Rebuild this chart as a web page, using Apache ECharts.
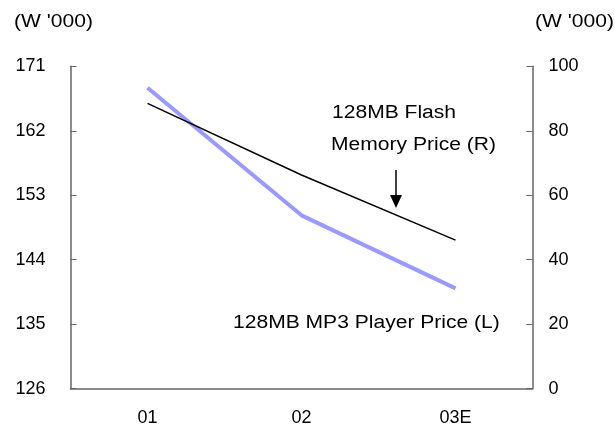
<!DOCTYPE html>
<html>
<head>
<meta charset="utf-8">
<script src="https://cdn.jsdelivr.net/npm/echarts@6/dist/echarts.min.js"></script>
<style>
  html, body { margin: 0; padding: 0; background: #fff; }
  #chart { width: 615px; height: 429px; }
</style>
</head>
<body>
<div id="chart"></div>
<script>
// Years on the category axis
var years = ['01', '02', '03E'];
// 128MB MP3 player price, left axis (W '000)
var mp3Price = [168.0, 150.2, 140.0];
// 128MB flash memory price, right axis (W '000)
var flashPrice = [88.5, 66.3, 46.1];
// Axis ranges
var leftMin = 126, leftMax = 171, leftStep = 9;
var rightMin = 0, rightMax = 100, rightStep = 20;

var FONT = 'Liberation Sans, Arial, sans-serif';
var AXIS_COLOR = '#666666';
var WIDE = 1.17; // horizontal stretch for the wide annotation lettering

function label(text, x, y) {
  return {
    type: 'text', x: x, y: y, scaleX: WIDE,
    style: { text: text, fill: '#000', font: '18px ' + FONT, textVerticalAlign: 'middle' }
  };
}

var chart = echarts.init(document.getElementById('chart'), null, { renderer: 'canvas' });

chart.setOption({
  animation: false,
  backgroundColor: '#ffffff',
  textStyle: { fontFamily: FONT },
  grid: { left: 70.5, right: 82.5, top: 66.3, bottom: 40.3, containLabel: false },
  xAxis: {
    type: 'category',
    data: years,
    boundaryGap: true,
    axisLine: { lineStyle: { color: AXIS_COLOR, width: 1.5 } },
    axisTick: { inside: true, length: 5, lineStyle: { color: AXIS_COLOR } },
    axisLabel: { color: '#000', fontSize: 18, fontFamily: FONT, margin: 20 },
    splitLine: { show: false }
  },
  yAxis: [
    {
      type: 'value',
      position: 'left',
      min: leftMin, max: leftMax, interval: leftStep,
      axisLine: { show: true, lineStyle: { color: AXIS_COLOR, width: 1.5 } },
      axisTick: { show: true, inside: true, length: 6, lineStyle: { color: AXIS_COLOR } },
      axisLabel: { color: '#000', fontSize: 18, fontFamily: FONT, margin: 25 },
      splitLine: { show: false }
    },
    {
      type: 'value',
      position: 'right',
      min: rightMin, max: rightMax, interval: rightStep,
      axisLine: { show: true, lineStyle: { color: AXIS_COLOR, width: 1.5 } },
      axisTick: { show: true, inside: true, length: 6, lineStyle: { color: AXIS_COLOR } },
      axisLabel: { color: '#000', fontSize: 18, fontFamily: FONT, margin: 16 },
      splitLine: { show: false }
    }
  ],
  series: [
    {
      name: '128MB MP3 Player Price (L)',
      type: 'line',
      yAxisIndex: 0,
      data: mp3Price,
      symbol: 'none',
      lineStyle: { color: '#9999ff', width: 4 }
    },
    {
      name: '128MB Flash Memory Price (R)',
      type: 'line',
      yAxisIndex: 1,
      data: flashPrice,
      symbol: 'none',
      lineStyle: { color: '#000000', width: 1.5 }
    }
  ],
  graphic: [
    label("(W '000)", 14, 22),
    label("(W '000)", 535, 22),
    label('128MB Flash', 332, 113),
    label('Memory Price (R)', 331, 145),
    label('128MB MP3 Player Price (L)', 233, 323),
    { type: 'line', shape: { x1: 396, y1: 170, x2: 396, y2: 197 }, style: { stroke: '#000', lineWidth: 1.5 } },
    { type: 'polygon', shape: { points: [[390, 195], [402, 195], [396, 208]] }, style: { fill: '#000' } }
  ]
});
</script>
</body>
</html>
